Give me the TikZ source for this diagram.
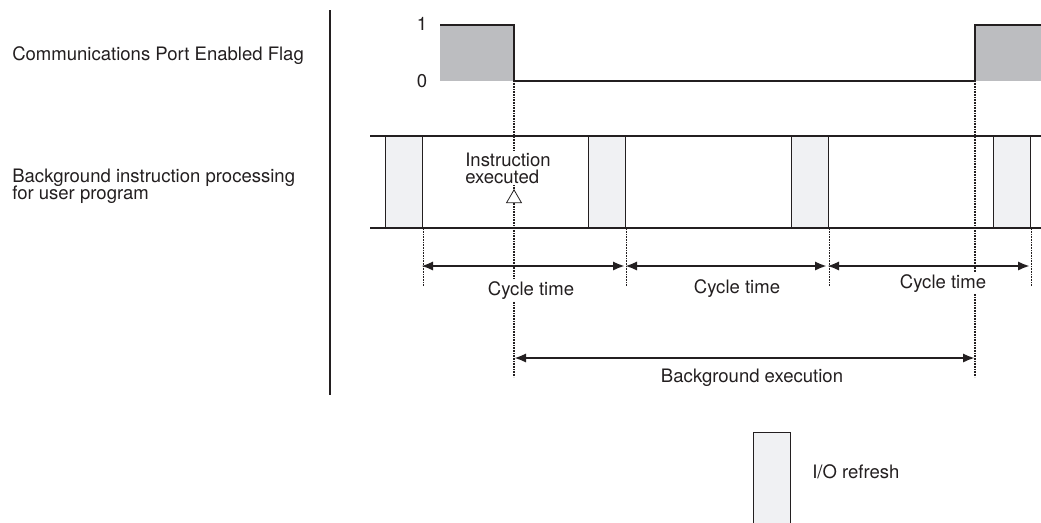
\documentclass[tikz,border=0pt]{standalone}
\usepackage{fontspec}
\setmainfont{TeX Gyre Heros}
\usetikzlibrary{arrows.meta,shapes.geometric}
\definecolor{ink}{RGB}{35,31,32}
\definecolor{flaggray}{RGB}{188,189,192}
\definecolor{iofill}{RGB}{240,241,243}
\lineskiplimit=-20pt

\begin{document}
\begin{tikzpicture}[x=0.75pt,y=-0.75pt,
        lbl/.style={font=\fontsize{13.9}{12.75}\selectfont, text=ink, inner sep=1.5pt},
        mask/.style={lbl, fill=white},
        sig/.style={draw=ink, line width=1.7pt},
        band/.style={draw=ink, line width=1.8pt},
        iobox/.style={draw=ink, fill=iofill, line width=0.9pt, minimum width=27.75pt, minimum height=69pt, inner sep=0pt, anchor=north west},
        guide/.style={draw=ink, line width=0.9pt, dash pattern=on 0.7pt off 0.5pt},
        arr/.style={{Latex[length=9pt,width=7pt]}-{Latex[length=9pt,width=7pt]}, draw=ink, line width=1.8pt}
      ]
        \useasboundingbox (0,0) rectangle (1041,522);
        % left side labels
        \node[lbl, anchor=base west] (flag) at (10,60) {Communications Port Enabled Flag};
        \node[lbl, anchor=base west, align=left] (bg) at (10,199) {Background instruction processing\\for user program};
        \draw[ink, line width=1.6pt] (330,10) -- (330,395);
        % flag signal
        \node[lbl] (one) at (422,24) {1};
        \node[lbl] (zero) at (422,81) {0};
        \fill[flaggray] (440,25) rectangle (514,81);
        \fill[flaggray] (975,25) rectangle (1041,81);
        \coordinate (fall) at (514,81);
        \coordinate (rise) at (975,81);
        \draw[sig] (440,25) -| (fall) -- (rise) |- (1041,25);
        % I/O refresh blocks
        \foreach \x [count=\i] in {385,588,791,993}
          \node[iobox] (io\i) at (\x,136) {};
        \draw[band] (370,136) -- (1041,136);
        \draw[band] (370,228) -- (1041,228);
        % guides
        \foreach \i in {1,...,4}
          \draw[guide] (io\i.south east) -- ++(0,57);
        \draw[guide] (fall) -- (514,377);
        \draw[guide] (rise) -- (975,377);
        \node[mask, align=left] (exec) at (508,168) {Instruction\\executed};
        \node[draw=ink, fill=white, line width=0.6pt, regular polygon, regular polygon sides=3, minimum size=13pt, inner sep=0pt] (tri) at (514,198.5) {};
        % cycle times
        \coordinate (c0) at (421,266);
        \coordinate (c1) at (625,266);
        \coordinate (c2) at (827,266);
        \coordinate (c3) at (1030,266);
        \draw[arr] (c0) -- (c1);
        \draw[arr] (c1) -- (c2);
        \draw[arr] (c2) -- (c3);
        \node[mask, anchor=base] (ct1) at (531,295) {Cycle time};
        \node[lbl, anchor=base] (ct2) at (737,293) {Cycle time};
        \node[mask, anchor=base] (ct3) at (943,288) {Cycle time};
        % background execution
        \coordinate (b0) at (514,358);
        \coordinate (b1) at (975,358);
        \draw[arr] (b0) -- (b1);
        \node[lbl, anchor=base] (bgexec) at (752,382) {Background execution};
        % legend
        \node[iobox, minimum height=90pt] (legend) at (753,432) {};
        \node[lbl, anchor=base west] (legtxt) at (810,478) {I/O refresh};
      \end{tikzpicture}
\end{document}
